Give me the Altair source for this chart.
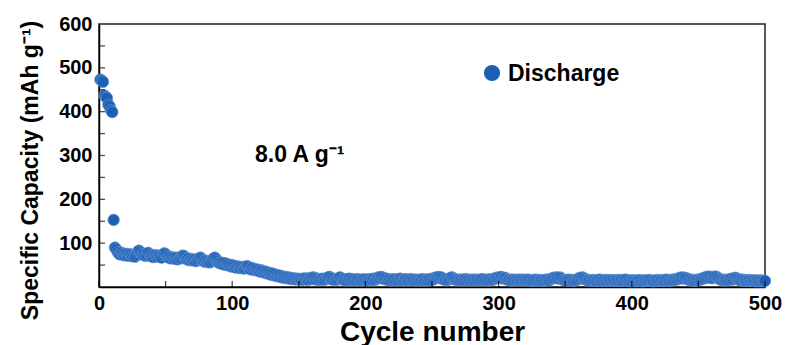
import altair as alt
import pandas as pd

cap_head = [473, 471, 468, 437, 434, 431, 416, 412, 403, 399,
            153, 90, 86, 80, 76, 74, 78, 75, 72, 76,
            74, 71, 75, 73, 70, 72, 69, 74, 80, 83,
            80, 76, 73, 75, 71, 73, 78, 74, 70, 72,
            68, 73, 71, 69, 72, 70, 67, 73, 77, 75,
            71, 67, 69, 65, 68, 66, 64, 67, 63, 66,
            65, 68, 72, 70, 66, 63, 65, 61, 64, 62,
            60, 63, 59, 62, 64, 67, 65, 61, 58, 60,
            57, 59, 56, 58, 62, 65, 67, 63, 59, 55,
            56, 53, 55, 51, 54, 50, 52, 49, 47, 50,
            46, 48, 44, 47, 45, 43, 46, 44, 42, 45,
            48, 46, 42, 40, 43, 39, 41, 38, 40, 37,
            35, 38, 36, 33, 35, 31, 33, 30, 28, 31,
            27, 29, 25, 27, 24, 26, 22, 24, 21, 23,
            20, 22, 19, 21, 18, 20, 19, 17, 19, 18]

cap_tail = [18, 16, 19, 17, 20, 18, 16, 19, 21, 18,
            22, 20, 17, 19, 16, 18, 17, 19, 16, 18,
            20, 22, 23, 20, 17, 19, 16, 18, 17, 20,
            22, 19, 17, 16, 18, 15, 17, 19, 16, 18,
            16, 17, 15, 18, 16, 17, 15, 16, 18, 16,
            17, 15, 18, 16, 17, 19, 16, 18, 21, 22,
            20, 23, 21, 18, 20, 17, 16, 18, 15, 17,
            16, 18, 15, 17, 16, 19, 17, 15, 16, 18,
            17, 15, 16, 18, 16, 17, 15, 17, 16, 15,
            17, 16, 18, 15, 16, 17, 15, 18, 16, 19,
            17, 20, 22, 21, 23, 20, 22, 19, 17, 16,
            18, 16, 19, 21, 22, 20, 18, 16, 17, 15,
            16, 17, 15, 16, 18, 15, 17, 16, 15, 17,
            16, 15, 17, 16, 15, 17, 16, 18, 15, 16,
            17, 15, 16, 18, 16, 17, 19, 21, 20, 22,
            21, 23, 20, 19, 21, 18, 16, 17, 15, 16,
            17, 15, 16, 15, 17, 16, 15, 17, 16, 15,
            16, 17, 15, 16, 14, 16, 15, 17, 15, 16,
            15, 16, 14, 16, 15, 17, 16, 15, 18, 19,
            21, 20, 22, 21, 19, 22, 20, 17, 16, 15,
            16, 15, 17, 15, 16, 14, 16, 15, 17, 19,
            21, 19, 22, 20, 18, 16, 15, 16, 14, 15,
            16, 15, 14, 16, 15, 17, 15, 14, 16, 15,
            14, 16, 15, 14, 16, 15, 14, 15, 16, 14,
            15, 16, 14, 15, 17, 16, 14, 15, 13, 15,
            14, 15, 13, 15, 14, 16, 14, 13, 15, 14,
            15, 14, 16, 15, 14, 13, 15, 14, 16, 15,
            14, 16, 15, 14, 15, 17, 15, 14, 16, 15,
            17, 16, 18, 17, 19, 21, 20, 22, 19, 21,
            20, 18, 16, 17, 15, 16, 14, 16, 15, 17,
            16, 18, 20, 19, 21, 23, 21, 24, 22, 20,
            23, 21, 24, 22, 20, 18, 16, 17, 15, 16,
            15, 17, 16, 18, 19, 17, 20, 21, 19, 17,
            16, 15, 17, 15, 16, 14, 15, 16, 14, 15,
            14, 15, 13, 15, 14, 13, 15, 14, 13, 14]

capacity = cap_head + cap_tail
cycles = list(range(1, len(capacity) + 1))

x_labels = [0, 100, 200, 300, 400, 500]
y_labels = [100, 200, 300, 400, 500, 600]
x_ticks = [0, 50, 100, 150, 200, 250, 300, 350, 400, 450, 500]
y_ticks = [50, 100, 150, 200, 250, 300, 350, 400, 450, 500, 550]

FONT = "Liberation Sans"
BLUE = "#1c5fb4"
W, H = 666, 263

df = pd.DataFrame({"cycle": cycles, "capacity": capacity})
xs = alt.Scale(domain=[0, 500], nice=False)
ys = alt.Scale(domain=[0, 600], nice=False)

points = alt.Chart(df).mark_circle(
    size=135, color=BLUE, opacity=1, stroke="#6d9ad6", strokeWidth=0.6
).encode(
    x=alt.X("cycle:Q", scale=xs, axis=alt.Axis(
        values=x_labels, ticks=False, grid=False, domainColor="black", domainWidth=1.5,
        labelFont=FONT, labelFontWeight="bold", labelFontSize=20, labelColor="black",
        labelPadding=6, labelFlush=False,
        title="Cycle number", titleFont=FONT, titleFontWeight="bold", titleFontSize=28,
        titleColor="black", titleX=W / 2, titleY=53, titleBaseline="alphabetic")),
    y=alt.Y("capacity:Q", scale=ys, axis=alt.Axis(
        values=y_labels, ticks=False, grid=False, domainColor="black", domainWidth=1.5,
        labelFont=FONT, labelFontWeight="bold", labelFontSize=20, labelColor="black",
        labelPadding=7, labelFlush=False,
        title="Specific Capacity (mAh g⁻¹)", titleFont=FONT, titleFontWeight="bold",
        titleFontSize=23, titleColor="black", titleAngle=270, titleX=-69, titleY=146,
        titleAlign="center", titleBaseline="middle")),
)

xt = alt.Chart(pd.DataFrame({"t": x_ticks})).mark_tick(
    color="black", thickness=1.3, size=6
).encode(x=alt.X("t:Q", scale=xs), y=alt.value(H - 3))

yt = alt.Chart(pd.DataFrame({"t": y_ticks})).mark_tick(
    color="black", thickness=1.3, size=6
).encode(y=alt.Y("t:Q", scale=ys), x=alt.value(3))

legend_dot = alt.Chart(pd.DataFrame({"k": ["Discharge"]})).mark_circle(
    size=260, color=BLUE, opacity=1
).encode(x=alt.value(393), y=alt.value(49))

legend_txt = alt.Chart(pd.DataFrame({"k": ["Discharge"]})).mark_text(
    font=FONT, fontWeight="bold", fontSize=23, align="left", baseline="alphabetic",
    color="black"
).encode(x=alt.value(409), y=alt.value(57), text="k:N")

note = alt.Chart(pd.DataFrame({"k": ["8.0 A g⁻¹"]})).mark_text(
    font=FONT, fontWeight="bold", fontSize=23, align="left", baseline="alphabetic",
    color="black"
).encode(x=alt.value(156), y=alt.value(138), text="k:N")

chart = alt.layer(points, xt, yt, legend_dot, legend_txt, note).properties(
    width=W, height=H,
    autosize=alt.AutoSizeParams(type="none"),
    padding={"left": 99, "top": 24, "right": 21, "bottom": 58},
    background="white",
).configure_view(stroke="#222", strokeWidth=1.5)

chart.save("out.html", embed_options={"renderer": "svg", "actions": False})
